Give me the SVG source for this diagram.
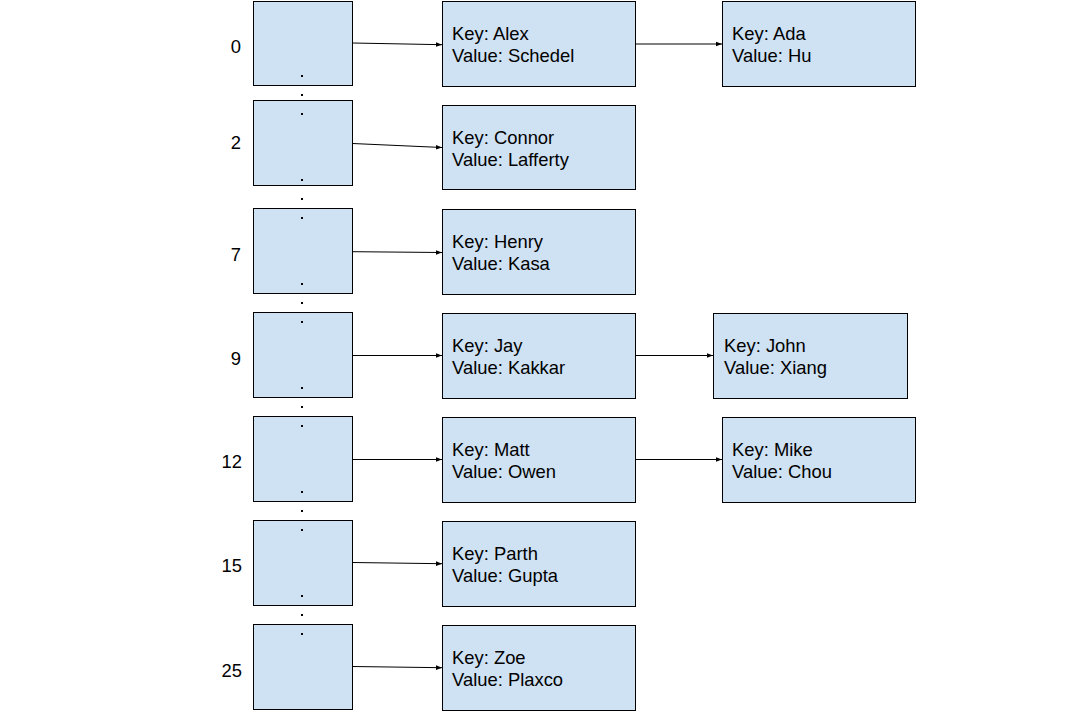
<svg xmlns="http://www.w3.org/2000/svg" width="1081" height="726" viewBox="0 0 1081 726">
<defs>
<marker id="ah" markerUnits="userSpaceOnUse" markerWidth="8" markerHeight="6" refX="6" refY="3" orient="auto">
<path d="M0,0.7 L6,3 L0,5.3 Z" fill="#000"/>
</marker>
<style>
.box{fill:#cfe2f3;stroke:#000;stroke-width:1}
.t{font-family:"Liberation Sans",Arial,sans-serif;font-size:18.4px;fill:#000}
.idx{font-family:"Liberation Sans",Arial,sans-serif;font-size:18.4px;fill:#000;text-anchor:end}
.dot{fill:#000}
.c{stroke:#000;stroke-width:1;fill:none;marker-end:url(#ah)}
</style>
</defs>
<rect width="1081" height="726" fill="#fff"/>

<g id="bucket-0"><rect class="box" x="253.5" y="1.5" width="99" height="84"/><text class="idx" x="241" y="53">0</text></g>
<g id="bucket-2"><rect class="box" x="253.5" y="100.5" width="99" height="85"/><text class="idx" x="241" y="149">2</text></g>
<g id="bucket-7"><rect class="box" x="253.5" y="208.5" width="99" height="85"/><text class="idx" x="241" y="261">7</text></g>
<g id="bucket-9"><rect class="box" x="253.5" y="312.5" width="99" height="85"/><text class="idx" x="241" y="365">9</text></g>
<g id="bucket-12"><rect class="box" x="253.5" y="416.5" width="99" height="85"/><text class="idx" x="242" y="468">12</text></g>
<g id="bucket-15"><rect class="box" x="253.5" y="520.5" width="99" height="85"/><text class="idx" x="242" y="572">15</text></g>
<g id="bucket-25"><rect class="box" x="253.5" y="624.5" width="99" height="85"/><text class="idx" x="242" y="677">25</text></g>

<g id="ellipsis-dots">
<rect class="dot" x="301" y="75" width="2" height="2"/><rect class="dot" x="301" y="94" width="2" height="2"/><rect class="dot" x="301" y="113" width="2" height="2"/>
<rect class="dot" x="301" y="179" width="2" height="2"/><rect class="dot" x="301" y="198" width="2" height="2"/><rect class="dot" x="301" y="217" width="2" height="2"/>
<rect class="dot" x="301" y="283" width="2" height="2"/><rect class="dot" x="301" y="302" width="2" height="2"/><rect class="dot" x="301" y="321" width="2" height="2"/>
<rect class="dot" x="301" y="387" width="2" height="2"/><rect class="dot" x="301" y="406" width="2" height="2"/><rect class="dot" x="301" y="425" width="2" height="2"/>
<rect class="dot" x="301" y="491" width="2" height="2"/><rect class="dot" x="301" y="510" width="2" height="2"/><rect class="dot" x="301" y="529" width="2" height="2"/>
<rect class="dot" x="301" y="595" width="2" height="2"/><rect class="dot" x="301" y="614" width="2" height="2"/><rect class="dot" x="301" y="633" width="2" height="2"/>
</g>

<g id="node-alex"><rect class="box" x="442.5" y="1.5" width="193" height="85"/><text class="t" x="452" y="40">Key: Alex</text><text class="t" x="452" y="62">Value: Schedel</text></g>
<g id="node-ada"><rect class="box" x="722.5" y="1.5" width="193" height="85"/><text class="t" x="732" y="40">Key: Ada</text><text class="t" x="732" y="62">Value: Hu</text></g>
<g id="node-connor"><rect class="box" x="442.5" y="105.5" width="193" height="84"/><text class="t" x="452" y="144">Key: Connor</text><text class="t" x="452" y="166">Value: Lafferty</text></g>
<g id="node-henry"><rect class="box" x="442.5" y="209.5" width="193" height="85"/><text class="t" x="452" y="248">Key: Henry</text><text class="t" x="452" y="270">Value: Kasa</text></g>
<g id="node-jay"><rect class="box" x="442.5" y="313.5" width="193" height="85"/><text class="t" x="452" y="352">Key: Jay</text><text class="t" x="452" y="374">Value: Kakkar</text></g>
<g id="node-john"><rect class="box" x="713.5" y="313.5" width="194" height="85"/><text class="t" x="724" y="352">Key: John</text><text class="t" x="724" y="374">Value: Xiang</text></g>
<g id="node-matt"><rect class="box" x="442.5" y="417.5" width="193" height="85"/><text class="t" x="452" y="456">Key: Matt</text><text class="t" x="452" y="478">Value: Owen</text></g>
<g id="node-mike"><rect class="box" x="722.5" y="417.5" width="193" height="85"/><text class="t" x="732" y="456">Key: Mike</text><text class="t" x="732" y="478">Value: Chou</text></g>
<g id="node-parth"><rect class="box" x="442.5" y="521.5" width="193" height="85"/><text class="t" x="452" y="560">Key: Parth</text><text class="t" x="452" y="582">Value: Gupta</text></g>
<g id="node-zoe"><rect class="box" x="442.5" y="625.5" width="193" height="85"/><text class="t" x="452" y="664">Key: Zoe</text><text class="t" x="452" y="686">Value: Plaxco</text></g>

<g id="connectors">
<line class="c" x1="352.5" y1="43" x2="442" y2="44.7"/>
<line class="c" x1="352.5" y1="143.5" x2="442" y2="147.5"/>
<line class="c" x1="352.5" y1="251.7" x2="442" y2="252.5"/>
<line class="c" x1="352.5" y1="355.5" x2="442" y2="355.5"/>
<line class="c" x1="352.5" y1="459.5" x2="442" y2="459.5"/>
<line class="c" x1="352.5" y1="562.5" x2="442" y2="563.7"/>
<line class="c" x1="352.5" y1="666.5" x2="442" y2="667.7"/>
<line class="c" x1="635.5" y1="44" x2="722" y2="44"/>
<line class="c" x1="635.5" y1="355.5" x2="713" y2="355.5"/>
<line class="c" x1="635.5" y1="459.5" x2="722" y2="459.5"/>
</g>
</svg>
